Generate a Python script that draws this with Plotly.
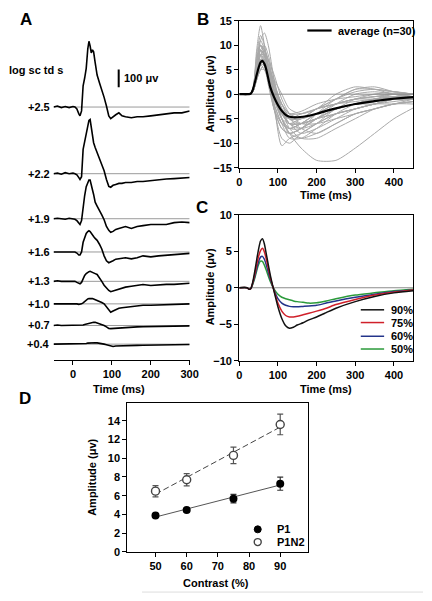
import plotly.graph_objects as go

# ---------------- DATA ----------------
# Panel A: stacked ERG traces (time ms, amplitude µV relative to each baseline)
A_TIME = [-50, -40, -30, -20, -10, 0, 5, 10, 15, 18, 22, 26, 30, 34, 38, 41, 44, 47, 50, 53,
          57, 62, 68, 74, 80, 86, 92, 97, 103, 110, 118, 126, 135, 150, 165, 180, 200, 220, 240, 260,
          280, 300]
A_LEVELS = ["+2.5", "+2.2", "+1.9", "+1.6", "+1.3", "+1.0", "+0.7", "+0.4"]
A_25 = [0, 6, -3, 3, -3, 3, 0, -11, -39, -50, -22, 121, 165, 220, 330, 374, 347, 308, 325, 314,
        253, 182, 138, 99, 55, 6, -50, -66, -55, -44, -33, -50, -55, -61, -55, -55, -50, -44, -39, -33,
        -33, -22]
A_22 = [0, 3, -3, 6, 0, 3, 0, -6, -22, -33, -17, 138, 182, 226, 281, 303, 308, 264, 220, 176,
        149, 121, 88, 61, 17, -33, -72, -77, -66, -61, -55, -55, -50, -50, -44, -44, -39, -33, -30, -28,
        -25, -22]
A_19 = [0, 3, 0, -3, 3, 0, -3, -11, -28, -33, -11, 77, 132, 182, 209, 220, 220, 198, 165, 138,
        94, 72, 50, 22, -6, -44, -66, -77, -72, -61, -55, -50, -44, -55, -44, -39, -33, -33, -33, -22,
        -19, -22]
A_16 = [0, 0, 3, 0, 0, 0, 0, -6, -17, -17, 0, 55, 83, 105, 116, 121, 116, 105, 94, 88,
        77, 66, 44, 17, -22, -50, -61, -58, -50, -41, -39, -33, -33, -39, -33, -22, -28, -22, -19, -17,
        -11, -8]
A_13 = [0, 3, 0, 0, -3, 0, 0, -6, -14, -14, -6, 17, 33, 44, 52, 55, 57, 55, 52, 50,
        44, 39, 22, 0, -22, -39, -52, -59, -55, -47, -41, -36, -33, -28, -22, -18, -24, -19, -17, -17,
        -14, -11]
A_10 = [0, 0, 3, 0, 0, 0, 0, 0, -3, -3, 0, 6, 14, 22, 28, 30, 31, 31, 30, 28,
        25, 19, 14, 8, 0, -17, -39, -48, -41, -33, -25, -22, -19, -14, -11, -8, -8, -6, -6, -3,
        -3, 0]
A_07 = [0, 3, 0, 0, 3, 0, 0, 0, 0, 0, 0, 3, 6, 8, 11, 14, 17, 18, 18, 18,
        18, 14, 11, 6, 0, -8, -17, -18, -17, -14, -13, -11, -11, -8, -8, -7, -6, -6, -4, -3,
        -3, -2]
A_04 = [0, 0, 2, 0, 0, 0, 0, 0, 0, 0, 0, 0, 3, 4, 6, 7, 8, 9, 9, 9,
        8, 7, 6, 3, 0, -3, -8, -11, -13, -11, -10, -8, -7, -7, -7, -6, -6, -6, -4, -3,
        -3, -2]
A_TRACES = [A_25, A_22, A_19, A_16, A_13, A_10, A_07, A_04]
A_XTICKS = [0, 100, 200, 300]

# Panel B: individual traces (n=30) and average
B_TIME = [0, 25, 35, 45, 55, 65, 75, 90, 110, 130, 160, 200, 250, 300, 350, 400, 450]
B_INDIV = [
    [0, 0, 1, 9, 14, 10, 4, -3, -9, -10, -8, -6, -4, -3, -2, -1, -1],
    [0, 0, 0.5, 5, 11, 12.5, 10, 3, -5, -8, -7, -5, -3, -2, -1, -0.5, 0],
    [0, 0, 0.5, 5, 9, 8, 4, -1, -5, -8, -11, -13.5, -13.5, -11, -8, -5, -2.8],
    [0, 0, 1, 8, 12, 10, 5, 0, -5, -7, -6, -4, -2, -1, -0.5, 0, 0],
    [0, 0, 0.5, 4, 8, 9, 7, 2, -3, -6, -7, -6, -4, -3, -2, -1, -1],
    [0, 0, 0.5, 3, 6, 7, 6, 2, -2, -4, -5, -4, -3, -2, -1.5, -1, -0.5],
    [0, 0, 1, 6, 10, 9, 5, -2, -10.5, -9, -8, -6, -3, -2, -1, -1, -0.5],
    [0, 0, 0.5, 4, 7, 6, 3, -1, -4, -5, -4, -3, -2, -1, -0.5, 0, 0],
    [0, 0, 0.5, 5, 9, 8, 5, 1, -3, -5, -5, -3, -1, 1, 1.5, 0.5, 0],
    [0, 0, 0.5, 3, 5, 5, 4, 1, -2, -4, -4, -3, 0, 1.5, 1, 0, -0.5],
    [0, 0, 1, 7, 11, 9, 4, -3, -7, -8, -7, -5, -3, -2, -1.5, -1, -1],
    [0, 0, 0.5, 4, 8, 8, 6, 2, -2, -5, -7, -8, -6, -4, -3, -2, -1.5],
    [0, 0, 0.5, 5, 8, 7, 4, 0, -4, -6, -6, -5, -3, -1, 0, 0.5, 0],
    [0, 0, 1, 5, 9, 10, 8, 3, -3, -7, -9, -9, -7, -5, -3, -2, -1.5],
    [0, 0, 0.5, 4, 6, 5, 3, 0, -3, -4, -3.5, -2, -1, -0.5, 0, 0, 0],
    [0, 0, 0.5, 6, 10, 8, 3, -3, -7, -8, -7, -4, -1, 1, 1, 0.5, 0],
    [0, 0, 0.5, 3, 7, 8, 7, 4, -1, -4, -6, -6, -5, -4, -3, -2, -1],
    [0, 0, 1, 7, 10, 8, 4, -1, -5, -6, -5, -3, -2, -1, -1, -0.5, 0],
    [0, 0, 0.5, 4, 7, 7, 5, 1, -4, -6, -8, -7, -5, -3, -2, -1, -1],
    [0, 0, 0.5, 5, 8, 6, 2, -3, -6, -7, -6, -4, -2, -1, -0.5, -0.5, 0],
    [0, 0, 0.5, 3, 5, 6, 5, 2, -2, -5, -6, -5, -4, -3, -2, -2, -1.5],
    [0, 0, 1, 6, 9, 7, 3, -2, -6, -9, -9, -7, -4, -2, -1, 0, 0],
    [0, 0, 0.5, 4, 7, 7, 5, 0, -5, -7, -7, -5, -2, 0, 0.5, 0, -0.5],
    [0, 0, 0.5, 3, 6, 6, 4, 0, -3, -5, -5, -4, -3, -2, -2, -1, -1],
    [0, 0, 1, 6, 10, 9, 6, 1, -4, -6, -6, -5, -4, -3, -2, -1.5, -1],
    [0, 0, 0.5, 5, 8, 8, 6, 1, -5, -8, -9, -8, -6, -4, -3, -2, -2],
    [0, 0, 0.5, 4, 7, 6, 3, -2, -6, -7, -6, -4, -3, -2, -1, -0.5, -0.5],
    [0, 0, 0.5, 3, 5, 6, 5, 3, 0, -3, -4, -3, -1, 0.5, 1, 0.5, 0],
    [0, 0, 1, 6, 9, 8, 4, 0, -4, -5, -5, -3, -2, -1.5, -1, -1, -0.5],
    [0, 0, 0.5, 4, 8, 9, 7, 2, -3, -6, -6, -5, -3, -2, -1, -1, -0.5],
]
C_TIME = [0, 20, 25, 30, 35, 40, 45, 50, 55, 60, 65, 70, 80, 90, 100, 110, 120, 130, 140, 150,
          165, 180, 200, 225, 250, 300, 350, 400, 450]
B_AVG = [0, 0, 0, 0.1, 0.9, 2.3, 3.9, 5.4, 6.5, 6.8, 6.2, 5.0, 1.5, -0.6, -2.2, -3.4, -4.2, -4.6, -4.7, -4.7,
         -4.6, -4.4, -4.0, -3.4, -2.9, -2.0, -1.4, -0.9, -0.6]

# Panel C: average responses by contrast
C_LABELS = ["90%", "75%", "60%", "50%"]
C_90 = [0, 0, -0.2, -0.1, 0.8, 2.2, 3.8, 5.3, 6.4, 6.7, 6.0, 4.6, 1.8, -0.5, -2.6, -4.2, -5.2, -5.55, -5.4, -5.1,
        -4.8, -4.4, -4.0, -3.4, -2.8, -1.9, -1.2, -0.7, -0.4]
C_75 = [0, 0, -0.2, -0.1, 0.7, 1.8, 3.1, 4.3, 5.1, 5.4, 4.9, 3.9, 1.5, -0.4, -2.1, -3.2, -3.8, -4.0, -4.0, -3.9,
        -3.7, -3.5, -3.2, -2.8, -2.3, -1.6, -1.0, -0.6, -0.3]
C_60 = [0, 0, -0.2, -0.1, 0.6, 1.5, 2.6, 3.6, 4.2, 4.3, 3.9, 3.1, 1.2, -0.3, -1.5, -2.1, -2.4, -2.55, -2.6, -2.6,
        -2.55, -2.5, -2.4, -2.1, -1.8, -1.3, -0.9, -0.5, -0.3]
C_50 = [0, 0, -0.2, -0.1, 0.5, 1.3, 2.3, 3.2, 3.65, 3.6, 3.1, 2.4, 0.9, -0.2, -0.9, -1.3, -1.5, -1.65, -1.8, -1.9,
        -2.0, -2.1, -2.05, -1.8, -1.5, -1.0, -0.7, -0.4, -0.2]
C_SERIES = [C_90, C_75, C_60, C_50]

# Panel D: amplitude vs contrast
CONTRAST = [50, 60, 75, 90]
P1 = [3.87, 4.46, 5.68, 7.28]
P1_ERR = [0.2, 0.2, 0.45, 0.7]
P1N2 = [6.48, 7.7, 10.3, 13.6]
P1N2_ERR = [0.6, 0.65, 0.87, 1.1]
FIT_X = [50, 90]
P1_FIT = [3.72, 7.14]
P1N2_FIT = [6.16, 13.32]

# ---------------- LAYOUT HELPERS ----------------
W, H = 432, 601
FONT = "Liberation Sans"


def X(px):
    return px / W


def Y(py):
    return 1 - py / H


A_OFFSETS = [1437, 1058, 802, 613, 446, 318, 195, 89]   # stacking baselines (µV)
C_COLORS = ["#111111", "#d0202a", "#23348a", "#2b9a3a"]

fig = go.Figure()

# Panel A
for tr, off in zip(A_TRACES, A_OFFSETS):
    fig.add_trace(go.Scatter(x=A_TIME, y=[v + off for v in tr], mode="lines",
                             line=dict(color="black", width=1.6), xaxis="x", yaxis="y",
                             showlegend=False, hoverinfo="skip"))

# Panel B
for tr in B_INDIV:
    fig.add_trace(go.Scatter(x=B_TIME, y=tr, mode="lines",
                             line=dict(color="#a9a9a9", width=1, shape="spline", smoothing=0.7),
                             xaxis="x2", yaxis="y2", showlegend=False, hoverinfo="skip"))
fig.add_trace(go.Scatter(x=[0, 450], y=[0, 0], mode="lines", line=dict(color="#8c8c8c", width=1),
                         xaxis="x2", yaxis="y2", showlegend=False, hoverinfo="skip"))
fig.add_trace(go.Scatter(x=C_TIME, y=B_AVG, mode="lines",
                         line=dict(color="black", width=2.2, shape="spline", smoothing=0.6),
                         xaxis="x2", yaxis="y2", showlegend=False))

# Panel C
fig.add_trace(go.Scatter(x=[0, 450], y=[0, 0], mode="lines", line=dict(color="#8c8c8c", width=1),
                         xaxis="x3", yaxis="y3", showlegend=False, hoverinfo="skip"))
for s, col in zip(reversed(C_SERIES), reversed(C_COLORS)):
    fig.add_trace(go.Scatter(x=C_TIME, y=s, mode="lines",
                             line=dict(color=col, width=1.5, shape="spline", smoothing=0.6),
                             xaxis="x3", yaxis="y3", showlegend=False))

# Panel D
fig.add_trace(go.Scatter(x=FIT_X, y=P1_FIT, mode="lines", line=dict(color="#555555", width=1),
                         xaxis="x4", yaxis="y4", showlegend=False))
fig.add_trace(go.Scatter(x=FIT_X, y=P1N2_FIT, mode="lines",
                         line=dict(color="#444444", width=1, dash="6px,3px"),
                         xaxis="x4", yaxis="y4", showlegend=False))
fig.add_trace(go.Scatter(x=CONTRAST, y=P1N2, mode="markers",
                         error_y=dict(type="data", array=P1N2_ERR, color="#555555", thickness=1.2, width=3),
                         marker=dict(symbol="circle", size=8, color="white",
                                     line=dict(color="#444444", width=1.4)),
                         xaxis="x4", yaxis="y4", showlegend=False))
fig.add_trace(go.Scatter(x=CONTRAST, y=P1, mode="markers",
                         error_y=dict(type="data", array=P1_ERR, color="#333333", thickness=1.2, width=3),
                         marker=dict(symbol="circle", size=8, color="black"),
                         xaxis="x4", yaxis="y4", showlegend=False))

tickfont = dict(family=FONT, size=11, color="black", weight="bold")


def axstyle(**kw):
    d = dict(showgrid=False, zeroline=False, showline=True, linecolor="black", linewidth=1.3,
             ticks="outside", ticklen=4, tickwidth=1, tickcolor="black", tickfont=tickfont)
    d.update(kw)
    return d


fig.update_layout(
    width=W, height=H, margin=dict(l=0, r=0, t=0, b=0, pad=0), autosize=False,
    paper_bgcolor="white", plot_bgcolor="white", showlegend=False,
    xaxis=axstyle(domain=[X(52), X(192)], range=[-50, 300], tickvals=A_XTICKS, anchor="y"),
    yaxis=dict(domain=[Y(361), Y(20)], range=[0, 1900], visible=False, anchor="x"),
    xaxis2=axstyle(domain=[X(243), X(422)], range=[0, 450], dtick=100, anchor="y2", mirror=True),
    yaxis2=axstyle(domain=[Y(165), Y(15)], range=[-15, 15], dtick=5, anchor="x2", mirror=True),
    xaxis3=axstyle(domain=[X(243), X(422)], range=[0, 450], dtick=100, anchor="y3", mirror=True),
    yaxis3=axstyle(domain=[Y(362), Y(213)], range=[-10, 10], dtick=5, anchor="x3", mirror=True),
    xaxis4=axstyle(domain=[X(128), X(314)], range=[41, 99], tickvals=[50, 60, 70, 80, 90],
                   anchor="y4", mirror=True),
    yaxis4=axstyle(domain=[Y(557), Y(405)], range=[0, 15.9], dtick=2, anchor="x4", mirror=True),
)

shapes = []
# Panel A baselines
for off in A_OFFSETS:
    shapes.append(dict(type="line", xref="x", yref="y", x0=-50, x1=300, y0=off, y1=off,
                       line=dict(color="#9a9a9a", width=1), layer="below"))
# scale bar 100 µV
shapes.append(dict(type="line", xref="x", yref="y", x0=117.5, x1=117.5, y0=1550, y1=1650,
                   line=dict(color="black", width=2)))
# Panel B legend line
shapes.append(dict(type="line", xref="paper", yref="paper", x0=X(313), x1=X(338), y0=Y(25), y1=Y(25),
                   line=dict(color="black", width=2.2)))
# Panel C legend lines
for i, col in enumerate(C_COLORS):
    py = [310, 323, 337, 350][i]
    shapes.append(dict(type="line", xref="paper", yref="paper", x0=X(368), x1=X(392), y0=Y(py), y1=Y(py),
                       line=dict(color=col, width=1.5)))
# Panel D legend markers
shapes.append(dict(type="circle", xref="paper", yref="paper", xsizemode="pixel", ysizemode="pixel",
                   xanchor=X(262), yanchor=Y(534), x0=-3.5, x1=3.5, y0=-3.5, y1=3.5,
                   fillcolor="black", line=dict(color="black", width=1)))
shapes.append(dict(type="circle", xref="paper", yref="paper", xsizemode="pixel", ysizemode="pixel",
                   xanchor=X(262), yanchor=Y(547), x0=-3.5, x1=3.5, y0=-3.5, y1=3.5,
                   fillcolor="white", line=dict(color="#444444", width=1.4)))
# faint border line bottom right
shapes.append(dict(type="line", xref="paper", yref="paper", x0=X(143), x1=1, y0=Y(598), y1=Y(598),
                   line=dict(color="#dddddd", width=1)))
fig.update_layout(shapes=shapes)

f11 = dict(family=FONT, size=11, color="black", weight="bold")
f16 = dict(family=FONT, size=17, color="black", weight="bold")
ann = []


def A(text, x, y, font=f11, xanchor="center", yanchor="middle", textangle=0):
    ann.append(dict(text=text, x=X(x), y=Y(y), xref="paper", yref="paper", showarrow=False,
                    font=font, xanchor=xanchor, yanchor=yanchor, textangle=textangle))


# panel letters
A("A", 24, 14, f16)
A("B", 206, 14, f16)
A("C", 205, 206, f16)
A("D", 23, 401, f16)
# Panel A texts
A("log sc td s", 4, 65, f11, xanchor="left")
A("100 μv", 122, 73, f11, xanchor="left")
for lab, py in zip(A_LEVELS, [103, 171, 217, 251, 281, 304, 326, 345]):
    A(lab, 50, py, f11, xanchor="right")
A("Time (ms)", 119, 391, f11)
# Panel B
A("average (n=30)", 343, 25, f11, xanchor="left")
A("Time (ms)", 332, 193, f11)
A("Amplitude (μv)", 213, 90, f11, textangle=-90)
# Panel C
for lab, py in zip(C_LABELS, [310, 323, 337, 350]):
    A(lab, 397, py, f11, xanchor="left")
A("Time (ms)", 332, 391, f11)
A("Amplitude (μv)", 213, 287, f11, textangle=-90)
# Panel D
A("P1", 280, 534, f11, xanchor="left")
A("P1N2", 280, 547, f11, xanchor="left")
A("Contrast (%)", 219, 589, f11)
A("Amplitude (μv)", 92, 481, f11, textangle=-90)
fig.update_layout(annotations=ann)

fig.write_html("out.html", config={"displayModeBar": False},
               post_script="document.body.style.margin='0';document.body.style.overflow='hidden';"
                           "document.documentElement.style.overflow='hidden';")
